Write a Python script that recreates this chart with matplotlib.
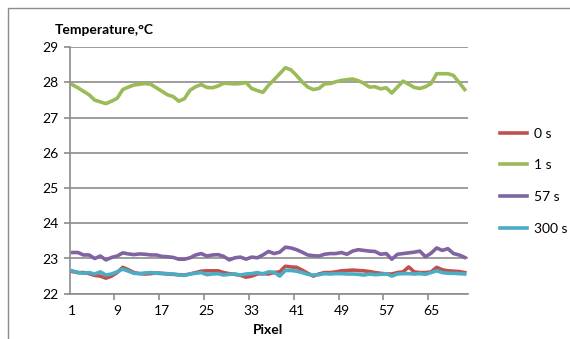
import numpy as np
import matplotlib.pyplot as plt
from matplotlib.patches import Rectangle

plt.rcParams['font.family'] = ['Lato', 'DejaVu Sans']

# temperature profiles along the pixel line, one per time step
pixel = np.arange(1, 72)

t_0s = [22.63, 22.60, 22.60, 22.57, 22.52, 22.50, 22.44, 22.50, 22.60, 22.75,
        22.68, 22.60, 22.57, 22.56, 22.57, 22.59, 22.58, 22.56, 22.55, 22.54,
        22.53, 22.56, 22.60, 22.64, 22.65, 22.65, 22.65, 22.60, 22.57, 22.55,
        22.52, 22.47, 22.50, 22.56, 22.57, 22.56, 22.60, 22.62, 22.78, 22.76,
        22.75, 22.67, 22.58, 22.50, 22.56, 22.60, 22.60, 22.62, 22.65, 22.66,
        22.67, 22.66, 22.65, 22.63, 22.60, 22.58, 22.56, 22.56, 22.60, 22.62,
        22.76, 22.62, 22.60, 22.60, 22.62, 22.75, 22.68, 22.65, 22.64, 22.63,
        22.60]

t_1s = [27.94, 27.85, 27.75, 27.65, 27.50, 27.45, 27.40, 27.47, 27.55, 27.80,
        27.87, 27.93, 27.95, 27.97, 27.95, 27.85, 27.75, 27.65, 27.60, 27.47,
        27.54, 27.78, 27.88, 27.94, 27.86, 27.85, 27.90, 27.98, 27.97, 27.96,
        27.97, 28.00, 27.83, 27.77, 27.72, 27.92, 28.08, 28.25, 28.42, 28.36,
        28.20, 28.02, 27.87, 27.80, 27.83, 27.96, 27.97, 28.02, 28.06, 28.08,
        28.10, 28.05, 27.98, 27.87, 27.88, 27.82, 27.85, 27.70, 27.87, 28.04,
        27.95, 27.86, 27.83, 27.88, 27.97, 28.25, 28.25, 28.25, 28.20, 28.00,
        27.80]

t_57s = [23.17, 23.17, 23.10, 23.10, 23.00, 23.07, 22.96, 23.03, 23.07, 23.16,
         23.13, 23.11, 23.13, 23.12, 23.10, 23.10, 23.06, 23.05, 23.03, 22.98,
         22.98, 23.02, 23.10, 23.14, 23.07, 23.10, 23.11, 23.06, 22.96, 23.02,
         23.04, 22.98, 23.04, 23.02, 23.10, 23.20, 23.14, 23.18, 23.32, 23.30,
         23.25, 23.18, 23.10, 23.08, 23.07, 23.12, 23.14, 23.14, 23.17, 23.12,
         23.21, 23.25, 23.23, 23.21, 23.20, 23.12, 23.14, 22.98, 23.12, 23.14,
         23.16, 23.18, 23.21, 23.05, 23.15, 23.30, 23.23, 23.28, 23.14, 23.10,
         23.03]

t_300s = [22.65, 22.60, 22.58, 22.60, 22.56, 22.62, 22.53, 22.56, 22.62, 22.70,
          22.64, 22.58, 22.57, 22.59, 22.60, 22.58, 22.57, 22.57, 22.56, 22.53,
          22.52, 22.56, 22.58, 22.60, 22.54, 22.56, 22.57, 22.53, 22.55, 22.56,
          22.53, 22.56, 22.57, 22.60, 22.56, 22.62, 22.61, 22.50, 22.66, 22.66,
          22.64, 22.60, 22.55, 22.53, 22.54, 22.57, 22.56, 22.57, 22.57, 22.56,
          22.56, 22.55, 22.53, 22.56, 22.54, 22.55, 22.57, 22.50, 22.56, 22.57,
          22.57, 22.56, 22.57, 22.55, 22.60, 22.65, 22.60, 22.58, 22.58, 22.57,
          22.56]

labels = ['0 s', '1 s', '57 s', '300 s']
colors = ['#C0504D', '#9BBB59', '#8064A2', '#4BACC6']

fig = plt.figure(figsize=(5.7, 3.39), dpi=100)
fig.patches.append(Rectangle((8 / 570, -0.05), 1.0, 1 - 8 / 339 + 0.05,
                             transform=fig.transFigure, fill=False,
                             edgecolor='#8c8c8c', linewidth=1.0))

ax = fig.add_axes([69.5 / 570, 1 - 293.7 / 339, 398 / 570, 246.4 / 339])

for series, name, c in zip([t_0s, t_1s, t_57s, t_300s], labels, colors):
    ax.plot(pixel, series, color=c, linewidth=2.6, label=name,
            solid_joinstyle='round')

ax.set_xlim(0.5, 71.5)
ax.set_ylim(22, 29)

# tick marks sit between categories, labels on every 8th pixel
ax.set_xticks(np.arange(8.5, 71, 8))
ax.set_xticklabels([])
ax.set_xticks(np.arange(1, 72, 8), minor=True)
ax.set_xticklabels([str(v) for v in range(1, 72, 8)], minor=True)
ax.tick_params(axis='x', which='major', direction='out', length=4,
               color='#8c8c8c', width=1.2)
ax.tick_params(axis='x', which='minor', length=0, pad=8, labelsize=10)
ax.set_yticks(range(22, 30))
ax.tick_params(axis='y', direction='out', length=4, color='#8c8c8c',
               width=1.2, labelsize=10, pad=4)

ax.grid(axis='y', color='#8c8c8c', linewidth=1.2)
ax.set_axisbelow(True)
for side in ['top', 'right']:
    ax.spines[side].set_visible(False)
for side in ['left', 'bottom']:
    ax.spines[side].set_color('#8c8c8c')
    ax.spines[side].set_linewidth(1.2)

ax.set_xlabel('Pixel', fontsize=10, fontweight='bold', labelpad=5)
fig.text(55 / 570, 1 - 30 / 339, 'Temperature,°C', fontsize=10,
         fontweight='bold', va='center', ha='left')

fig.legend(loc='upper left', bbox_to_anchor=(487 / 570, 1 - 115 / 339),
           frameon=False, fontsize=10, handlelength=2.0, labelspacing=1.42,
           handletextpad=0.45)

fig.savefig('out.png', dpi=100)
